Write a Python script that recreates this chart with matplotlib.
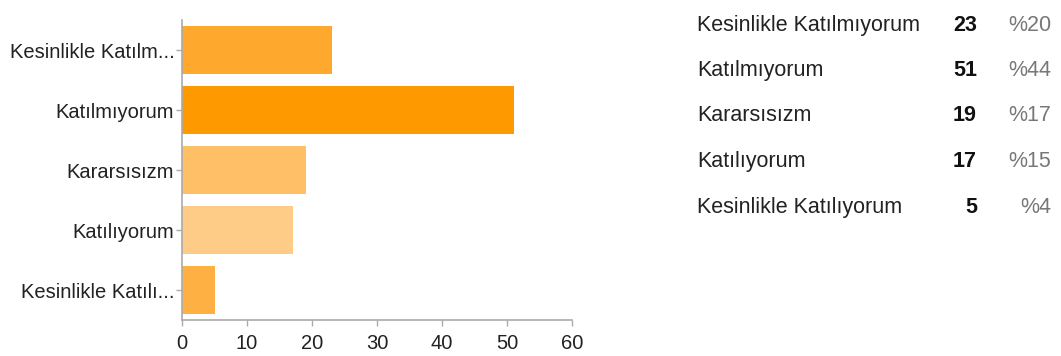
import matplotlib.pyplot as plt

plt.rcParams['font.family'] = ['Liberation Sans', 'DejaVu Sans']

labels = ['Kesinlikle Katılmıyorum', 'Katılmıyorum', 'Kararsısızm',
          'Katılıyorum', 'Kesinlikle Katılıyorum']
tick_labels = ['Kesinlikle Katılm...', 'Katılmıyorum', 'Kararsısızm',
               'Katılıyorum', 'Kesinlikle Katılı...']
counts = [23, 51, 19, 17, 5]
percents = ['%20', '%44', '%17', '%15', '%4']
colours = ['#ffa82e', '#ff9900', '#ffbf66', '#ffcc88', '#ffb043']

W, H = 1061, 356
fig = plt.figure(figsize=(W / 100, H / 100), dpi=100)
ax = fig.add_axes([182 / W, 1 - 320 / H, (572 - 182) / W, 300 / H])

pos = list(range(len(counts)))
ax.barh(pos, counts, height=0.8, color=colours, edgecolor='none')
ax.set_ylim(len(counts) - 0.5, -0.5)
ax.set_xlim(0, 60)
ax.set_xticks([0, 10, 20, 30, 40, 50, 60])
ax.set_yticks(pos)
ax.set_yticklabels(tick_labels)

for s in ['top', 'right']:
    ax.spines[s].set_visible(False)
for s in ['left', 'bottom']:
    ax.spines[s].set_color('#aaaaaa')
    ax.spines[s].set_linewidth(1.2)
ax.tick_params(colors='#aaaaaa', labelcolor='#222222', labelsize=14.5,
               length=4, width=1)
ax.tick_params(axis='x', pad=6)
ax.tick_params(axis='y', pad=1.5)

# table on the right
rows_y = [31, 76, 121.5, 166.5, 212.5]
for lab, c, p, y in zip(labels, counts, percents, rows_y):
    fy = 1 - y / H
    fig.text(697 / W, fy, lab, fontsize=15.5, color='#222222', va='baseline')
    fig.text(977 / W, fy, str(c), fontsize=15.5, color='#111111',
             fontweight='bold', va='baseline', ha='right')
    fig.text(1051 / W, fy, p, fontsize=15.5, color='#777777',
             va='baseline', ha='right')

fig.savefig('out.png', dpi=100)
